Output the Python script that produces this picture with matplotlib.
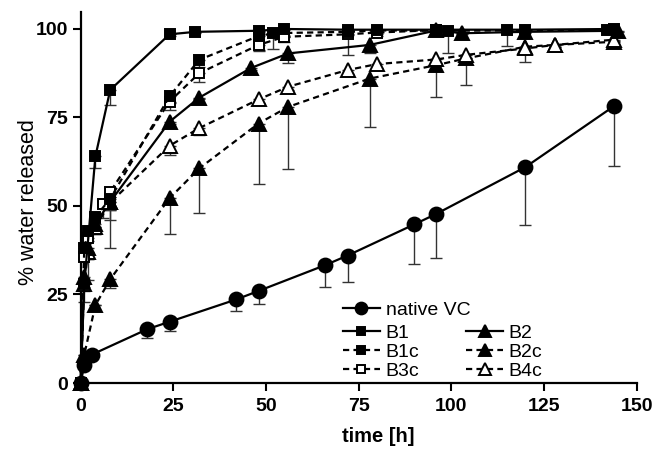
import numpy as np
import matplotlib
matplotlib.use("Agg")
import matplotlib.pyplot as plt

plt.rcParams['font.family'] = ['Liberation Sans', 'DejaVu Sans']

# ---- data ----
t_vc = [0, 1, 3, 18, 24, 42, 48, 66, 72, 90, 96, 120, 144]
vc = [0, 5, 8, 15.2, 17.3, 23.6, 26, 33.3, 36, 44.8, 47.8, 61, 78.3]
vc_err = [0, 0.5, 0.5, 2.6, 2.5, 3.2, 3.7, 6.3, 7.4, 11.2, 12.5, 16.4, 17]

t_b1 = [0, 1, 4, 8, 24, 31, 48, 55, 72, 96, 120, 144]
b1 = [0, 28, 64, 82.8, 98.5, 99.2, 99.5, 100, 99.8, 99.8, 99.8, 100]
b1_err = [0, 5, 3.3, 4.3, 0.5, 0.3, 0.3, 0.3, 0.3, 0.3, 0.3, 0.3]

t_b1c = [0, 1, 2, 4, 8, 24, 32, 48, 52, 72, 80, 99, 115, 142]
b1c = [0, 38, 43, 47, 52, 81, 91.3, 98, 98.8, 99.2, 99.6, 99.5, 99.6, 99.6]
b1c_err = [0, 3, 3, 3, 3, 2, 2, 4, 4.5, 1, 1, 6.3, 4.5, 0.5]

t_b3c = [0, 1, 2, 4, 6, 8, 24, 32, 48, 55, 72, 80, 96]
b3c = [0, 35.5, 41, 46.5, 50.5, 54, 79.5, 87.5, 95.5, 97.8, 98.5, 99, 99.7]
b3c_err = [0, 6, 12, 4, 4, 8, 2.5, 2.5, 1.6, 1.5, 5.8, 1, 0.5]

t_b2 = [0, 1, 2, 4, 8, 24, 32, 46, 56, 78, 96, 103, 120, 145]
b2 = [0, 30, 38, 45, 51.2, 73.8, 80.6, 89, 93.1, 95.5, 99.6, 98.8, 99.2, 99.5]
b2_err = [0, 3, 3, 3, 13, 0.5, 0.5, 0.5, 2.8, 2.4, 0.3, 0.3, 0.3, 0.3]

t_b2c = [0, 1, 4, 8, 24, 32, 48, 56, 78, 96, 104, 120, 128, 144]
b2c = [0, 8, 22, 29.3, 52.2, 60.6, 73.3, 78, 86, 89.8, 91.7, 95, 95.5, 96.4]
b2c_err = [0, 0, 0, 2.5, 10, 12.5, 17.2, 17.6, 13.6, 9.1, 7.5, 4.2, 0.5, 0.5]

t_b4c = [0, 1, 2, 4, 8, 24, 32, 48, 56, 72, 80, 96, 104, 120, 128, 144]
b4c = [0, 28, 37, 44, 51, 67, 72, 80.1, 83.7, 88.4, 90.1, 91.4, 92.7, 94.5, 95.5, 97]
b4c_err = [0, 2, 2, 2, 2, 2.6, 2, 1, 1, 1, 1, 1, 1, 1, 0.5, 0.5]

x_ticks = [0, 25, 50, 75, 100, 125, 150]
y_ticks = [0, 25, 50, 75, 100]

# ---- figure ----
W, H = 653, 451
fig = plt.figure(figsize=(W / 100, H / 100), dpi=100)
ax = fig.add_axes([75 / W, 1 - 383 / H, (636.7 - 75) / W, (383 - 12) / H])
ax.set_xlim(-1.5, 150)
ax.set_ylim(0, 104.8)

dash = (0, (2.8, 1.9))
series = [
    (t_b2c, b2c, b2c_err, dict(marker='^', ms=9.5, ls=dash, mfc='black'), 'B2c'),
    (t_b4c, b4c, b4c_err, dict(marker='^', ms=9.5, ls=dash, mfc='white'), 'B4c'),
    (t_b2, b2, b2_err, dict(marker='^', ms=9.5, ls='-', mfc='black'), 'B2'),
    (t_b3c, b3c, b3c_err, dict(marker='s', ms=7.5, ls=dash, mfc='white'), 'B3c'),
    (t_b1c, b1c, b1c_err, dict(marker='s', ms=7.5, ls=dash, mfc='black'), 'B1c'),
    (t_b1, b1, b1_err, dict(marker='s', ms=7.5, ls='-', mfc='black'), 'B1'),
    (t_vc, vc, vc_err, dict(marker='o', ms=10, ls='-', mfc='black'), 'native VC'),
]

handles = {}
for t, y, e, st, lab in series:
    t = np.array(t, float); y = np.array(y, float); e = np.array(e, float)
    ax.errorbar(t, y, yerr=[e, np.zeros_like(e)], fmt='none', ecolor='#333333',
                elinewidth=1.0, capsize=4.5, capthick=1.0, clip_on=False, zorder=2)
    ln, = ax.plot(t, y, color='black', lw=1.6, linestyle=st['ls'], marker=st['marker'],
                  ms=st['ms'], mfc=st['mfc'], mec='black', mew=1.4, clip_on=False,
                  zorder=3, label=lab)
    handles[lab] = ln

# spines
for s in ['top', 'right']:
    ax.spines[s].set_visible(False)
ax.spines['left'].set_position(('data', 0))
ax.spines['left'].set_linewidth(1.6)
ax.spines['bottom'].set_linewidth(1.6)

ax.set_xticks(x_ticks)
ax.set_yticks(y_ticks)
ax.tick_params(direction='out', length=6, width=1.5, labelsize=14)
ax.tick_params(axis='x', pad=4.5)
ax.tick_params(axis='y', pad=3)
for lbl in ax.get_xticklabels() + ax.get_yticklabels():
    lbl.set_fontweight('bold')

fig.text(378 / W, 1 - 437 / H, 'time [h]', fontsize=14.5, fontweight='bold',
         ha='center', va='center')
fig.text(28.5 / W, 1 - 202 / H, '% water released', fontsize=15.5, rotation=90,
         ha='center', va='center')

# legends
common = dict(frameon=False, fontsize=14, handlelength=1.9, handletextpad=0.3,
              borderpad=0, borderaxespad=0, labelspacing=0.08, markerscale=0.85,
              bbox_transform=fig.transFigure)
leg1 = fig.legend([handles['native VC']], ['native VC'], loc='center left',
                  bbox_to_anchor=(343 / W, 1 - 310 / H), **common)
order = ['B1', 'B1c', 'B3c', 'B2', 'B2c', 'B4c']
leg2 = fig.legend([handles[k] for k in order], order, loc='center left', ncol=2,
                  columnspacing=2.4, bbox_to_anchor=(343 / W, 1 - 352 / H), **common)

fig.savefig('out.png', dpi=100)
